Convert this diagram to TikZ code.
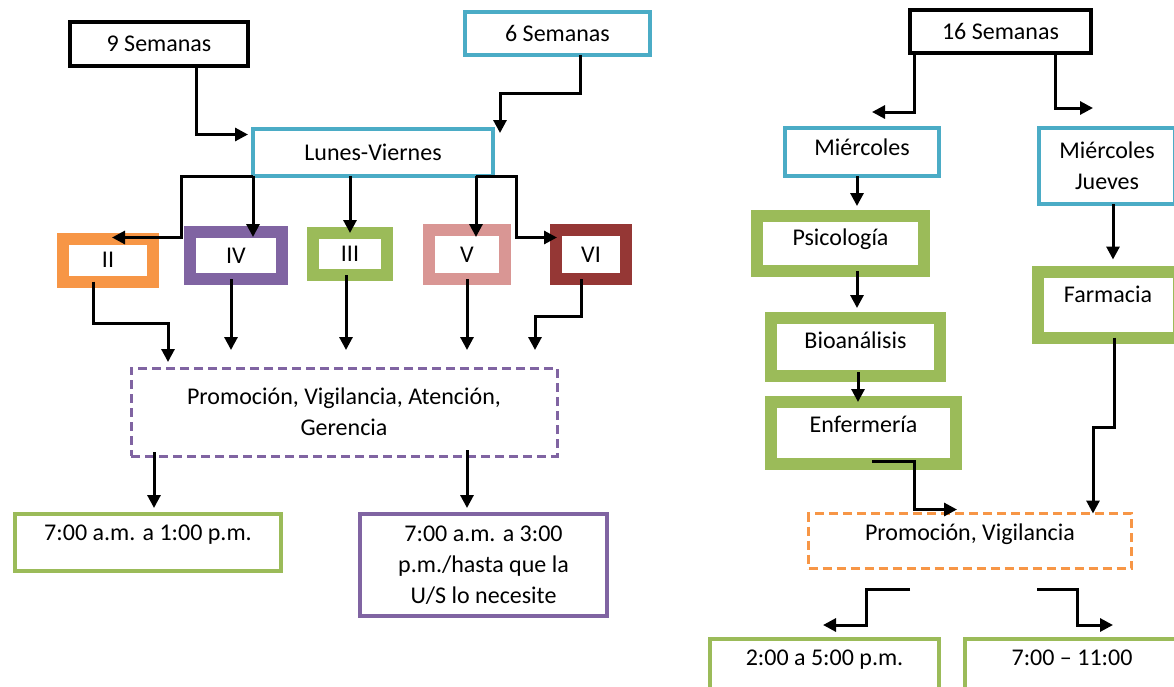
\documentclass[tikz,border=0pt]{standalone}
\usepackage{fontspec}
\setmainfont{Carlito}
\usepackage{tikz}
\usetikzlibrary{arrows.meta,calc}

\definecolor{cyanb}{HTML}{4BACC6}
\definecolor{orangeb}{HTML}{F79646}
\definecolor{purpleb}{HTML}{8064A2}
\definecolor{greenb}{HTML}{9BBB59}
\definecolor{pinkb}{HTML}{D99694}
\definecolor{redb}{HTML}{953735}

\begin{document}
\begin{tikzpicture}[x=1pt,y=-1pt,
    box/.style={draw=#1, line width=4pt, inner sep=2pt, outer sep=0pt, align=center, font=\fontsize{24}{31}\selectfont},
    fatbox/.style={box=#1, line width=12pt},
    dashbox/.style={box=#1, line width=3pt, dash pattern=on 9pt off 5pt},
    lift/.style={text height=16pt, text depth=#1},
    arr/.style={line width=3pt, -{Triangle[length=13pt,width=13pt]}}]
    \useasboundingbox (0,0) rectangle (1174,686);
    \clip (0,0) rectangle (1174,686);

    % Weeks and days
    \node[box=black, minimum width=178pt, minimum height=44pt] (s9) at (159,44) {9 Semanas};
    \node[box=cyanb, minimum width=185pt, minimum height=43pt] (s6) at (557.5,33.5) {6 Semanas};
    \node[box=cyanb, minimum width=240pt, minimum height=47pt] (lunes) at (373,152.5) {Lunes-Viernes};

    % Years
    \node[fatbox=orangeb, minimum width=90pt, minimum height=43pt] (ii) at (108,260) {II};
    \node[fatbox=purpleb, minimum width=92pt, minimum height=47pt] (iv) at (236,255.5) {IV};
    \node[fatbox=greenb, minimum width=74pt, minimum height=42pt] (iii) at (350,254) {III};
    \node[fatbox=pinkb, minimum width=76pt, minimum height=49pt] (v) at (467,254.5) {V};
    \node[fatbox=redb, minimum width=70pt, minimum height=49pt] (vi) at (591,254.5) {VI};

    % Activities and hours
    \node[dashbox=purpleb, minimum width=426pt, minimum height=88pt] (prom1) at (344,412) {Promoción, Vigilancia, Atención,\\Gerencia};
    \node[box=greenb, lift=20pt, minimum width=266pt, minimum height=57pt] (t1) at (148,542.5) {7:00 a.m. a 1:00 p.m.};
    \node[box=purpleb, minimum width=247pt, minimum height=102pt] (t2) at (483.5,565) {7:00 a.m. a 3:00\\p.m./hasta que la\\U/S lo necesite};

    \draw[arr] ($(s9.south)+(37,0)$) |- ($(lunes.west)+(-5,-18)$);
    \draw[arr] ($(s6.south)+(22.5,0)$) -- ++(0,38) -| ($(lunes.north east)+(7,4)$);
    \draw[arr] (lunes.south west) -- ++(-72,0) |- ($(ii.north)+(4,-1)$);
    \draw[arr] (lunes.south west) -- ($(iv.north)+(17,5)$);
    \draw[arr] (lunes.south -| iii.north) -- (iii.north);
    \draw[arr] ($(lunes.south)+(103,0)$) -- ($(v.north)+(9,7)$);
    \draw[arr] ($(lunes.south)+(103,0)$) -- ++(40,0) |- ($(vi.west)+(1,-17)$);

    \draw[arr] ($(ii.south)+(-15,0)$) -- ++(0,42) -| ($(prom1.north west)+(37,-6)$);
    \draw[arr] ($(iv.south)+(-5,0)$) -- ($(prom1.north west)+(100,-18)$);
    \draw[arr] ($(iii.south)+(-4,0)$) -- ($(prom1.north west)+(215,-18)$);
    \draw[arr] (v.south) -- ($(prom1.north west)+(336,-18)$);
    \draw[arr] ($(vi.south)+(-10,0)$) -- ++(0,37) -| ($(prom1.north east)+(-22,-18)$);

    \draw[arr] ($(prom1.south west)+(23,-4)$) -- ($(t1.north west)+(139,-6)$);
    \draw[arr] ($(prom1.south west)+(336,-6)$) -- ($(t2.north west)+(107,-6)$);

    % Right chart
    \node[box=black, minimum width=181pt, minimum height=43pt] (s16) at (1000.5,31.5) {16 Semanas};
    \node[box=cyanb, lift=9pt, minimum width=154pt, minimum height=48pt] (mie) at (862,152) {Miércoles};
    \node[box=cyanb, minimum width=136pt, minimum height=76pt] (mj) at (1107,166) {Miércoles\\Jueves};
    \node[fatbox=greenb, lift=12pt, minimum width=167pt, minimum height=55pt] (psi) at (840.5,243.5) {Psicología};
    \node[fatbox=greenb, lift=13pt, minimum width=169pt, minimum height=58pt] (bio) at (855.5,347) {Bioanálisis};
    \node[fatbox=greenb, lift=17pt, minimum width=185pt, minimum height=62pt] (enf) at (863.5,433) {Enfermería};
    \node[fatbox=greenb, lift=20pt, minimum width=141pt, minimum height=66pt] (far) at (1108,304.5) {Farmacia};
    \node[dashbox=orangeb, lift=17pt, minimum width=323pt, minimum height=55pt] (prom2) at (970,541) {Promoción, Vigilancia};
    \node[box=greenb, lift=19pt, minimum width=229pt, minimum height=56pt] (t3) at (824.5,667) {2:00 a 5:00 p.m.};
    \node[box=greenb, lift=19pt, minimum width=214pt, minimum height=56pt] (t4) at (1072,667) {7:00 – 11:00};

    \draw[arr] ($(s16.south west)+(4,0)$) |- ($(mie.north)+(10,-16)$);
    \draw[arr] ($(s16.south)+(54.5,0)$) |- ($(mj.north)+(-14,-20)$);
    \draw[arr] ($(mie.south)+(-5,0)$) -- ($(psi.north)+(16.5,-10)$);
    \draw[arr] ($(mj.south)+(6,0)$) -- ($(far.north)+(5,-12)$);
    \draw[arr] ($(psi.south)+(16.5,0)$) -- ($(bio.north)+(1.5,-10)$);
    \draw[arr] ($(bio.south)+(2.5,-4)$) -- ($(enf.north)+(-5.5,0)$);
    \draw[arr] ($(enf.south)+(8.5,-3)$) -- ++(42,0) |- ($(prom2.north)+(-13,-4)$);
    \draw[arr] ($(far.south)+(6,0)$) -- ++(0,89.5) -| ($(prom2.north)+(123,0)$);
    \draw[arr] ($(prom2.south)+(-60,20.5)$) -- ++(-44,0) |- ($(t3.north)+(-1.5,-14)$);
    \draw[arr] ($(prom2.south)+(67,20.5)$) -- ++(40,0) |- ($(t4.north)+(41,-14)$);
\end{tikzpicture}
\end{document}
